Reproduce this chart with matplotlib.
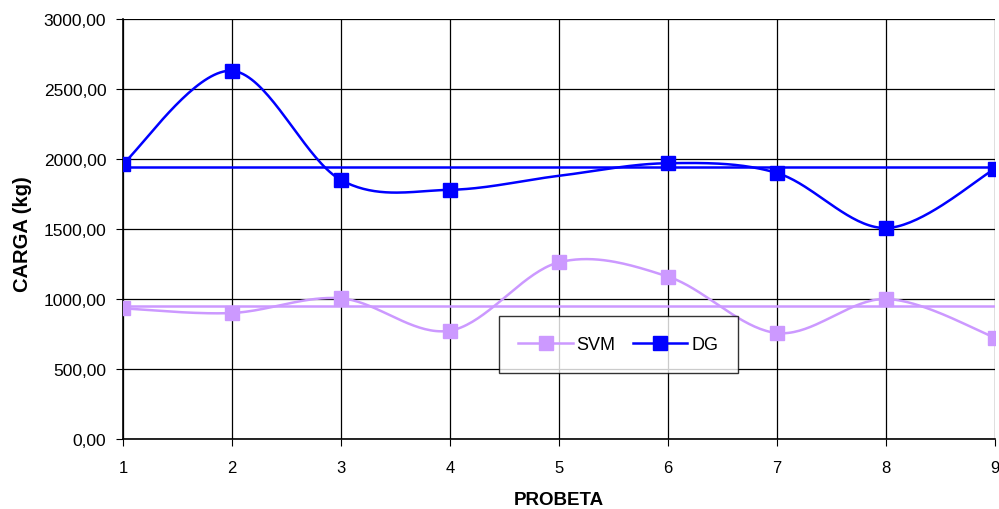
import numpy as np
import matplotlib
matplotlib.use('Agg')
from matplotlib import pyplot as plt
from matplotlib.ticker import FuncFormatter

probeta = [1, 2, 3, 4, 5, 6, 7, 8, 9]
svm = [933, 900, 1005, 774, 1262, 1160, 757, 1000, 724]
dg = [1965, 2630, 1850, 1780, 1880, 1970, 1900, 1507, 1930]
svm_media = 948
dg_media = 1945

plt.rcParams['font.family'] = ['Liberation Sans', 'DejaVu Sans']


def suavizar(x, y, n=40):
    # bezier como el suavizado de excel (catmull-rom)
    x = np.asarray(x, float)
    y = np.asarray(y, float)
    px = np.concatenate([[x[0]], x, [x[-1]]])
    py = np.concatenate([[y[0]], y, [y[-1]]])
    t = np.linspace(0, 1, n)[:, None]
    xs, ys = [], []
    for i in range(1, len(px) - 2):
        p0 = np.array([px[i], py[i]])
        p3 = np.array([px[i + 1], py[i + 1]])
        p1 = p0 + (np.array([px[i + 1], py[i + 1]]) - np.array([px[i - 1], py[i - 1]])) / 6
        p2 = p3 - (np.array([px[i + 2], py[i + 2]]) - np.array([px[i], py[i]])) / 6
        b = (1 - t) ** 3 * p0 + 3 * (1 - t) ** 2 * t * p1 + 3 * (1 - t) * t ** 2 * p2 + t ** 3 * p3
        xs.append(b[:, 0])
        ys.append(b[:, 1])
    return np.concatenate(xs), np.concatenate(ys)


fig = plt.figure(figsize=(9.99, 5.10), dpi=100)
ax = fig.add_axes([123 / 999, 70 / 510, 872 / 999, 420 / 510])

c_svm = '#CC99FF'
c_dg = '#0000FF'

sx, sy = suavizar(probeta, svm)
ax.plot(sx, sy, color=c_svm, lw=1.8, zorder=3)
ax.plot(probeta, svm, ls='none', marker='s', ms=10, color=c_svm, zorder=4)
ax.plot([probeta[0], probeta[-1]], [svm_media, svm_media], color=c_svm, lw=1.8, zorder=3)

dx, dy = suavizar(probeta, dg)
ax.plot(dx, dy, color=c_dg, lw=1.8, zorder=3)
marcas = [i for i in range(len(probeta)) if i != 4]
ax.plot([probeta[i] for i in marcas], [dg[i] for i in marcas], ls='none', marker='s', ms=10,
        color=c_dg, zorder=4)
ax.plot([probeta[0], probeta[-1]], [dg_media, dg_media], color=c_dg, lw=1.8, zorder=3)

# entradas de leyenda
ax.plot([], [], color=c_svm, lw=1.8, marker='s', ms=10, label='SVM')
ax.plot([], [], color=c_dg, lw=1.8, marker='s', ms=10, label='DG')

ax.set_xlim(1, 9)
ax.set_ylim(0, 3000)
ax.set_xticks(probeta)
ax.set_yticks(np.arange(0, 3001, 500))
ax.yaxis.set_major_formatter(FuncFormatter(lambda v, p: f'{v:.2f}'.replace('.', ',')))
ax.grid(True, color='black', lw=0.9)
ax.set_axisbelow(True)
for s in ['top', 'right']:
    ax.spines[s].set_visible(False)
ax.spines['left'].set_linewidth(1.2)
ax.spines['bottom'].set_linewidth(1.2)
ax.tick_params(axis='y', direction='out', length=5, labelsize=12.5, pad=7)
ax.tick_params(axis='x', direction='out', length=5, labelsize=12, pad=10)

ax.set_xlabel('PROBETA', fontsize=13.5, fontweight='bold', va='baseline')
ax.xaxis.set_label_coords(0.5, -0.155)
ax.set_ylabel('CARGA (kg)', fontsize=14.5, fontweight='bold')
ax.yaxis.set_label_coords(-0.104, 0.49)

handles, labels = ax.get_legend_handles_labels()
leg = ax.legend(handles[-2:], labels[-2:], ncol=2, loc='center',
                bbox_to_anchor=(0.568, 0.225), frameon=True, fancybox=False,
                fontsize=13, borderpad=1.1, handlelength=3.0, columnspacing=1.0,
                handletextpad=0.2, edgecolor='black')
leg.get_frame().set_linewidth(1.0)

fig.savefig('out.png', dpi=100)
